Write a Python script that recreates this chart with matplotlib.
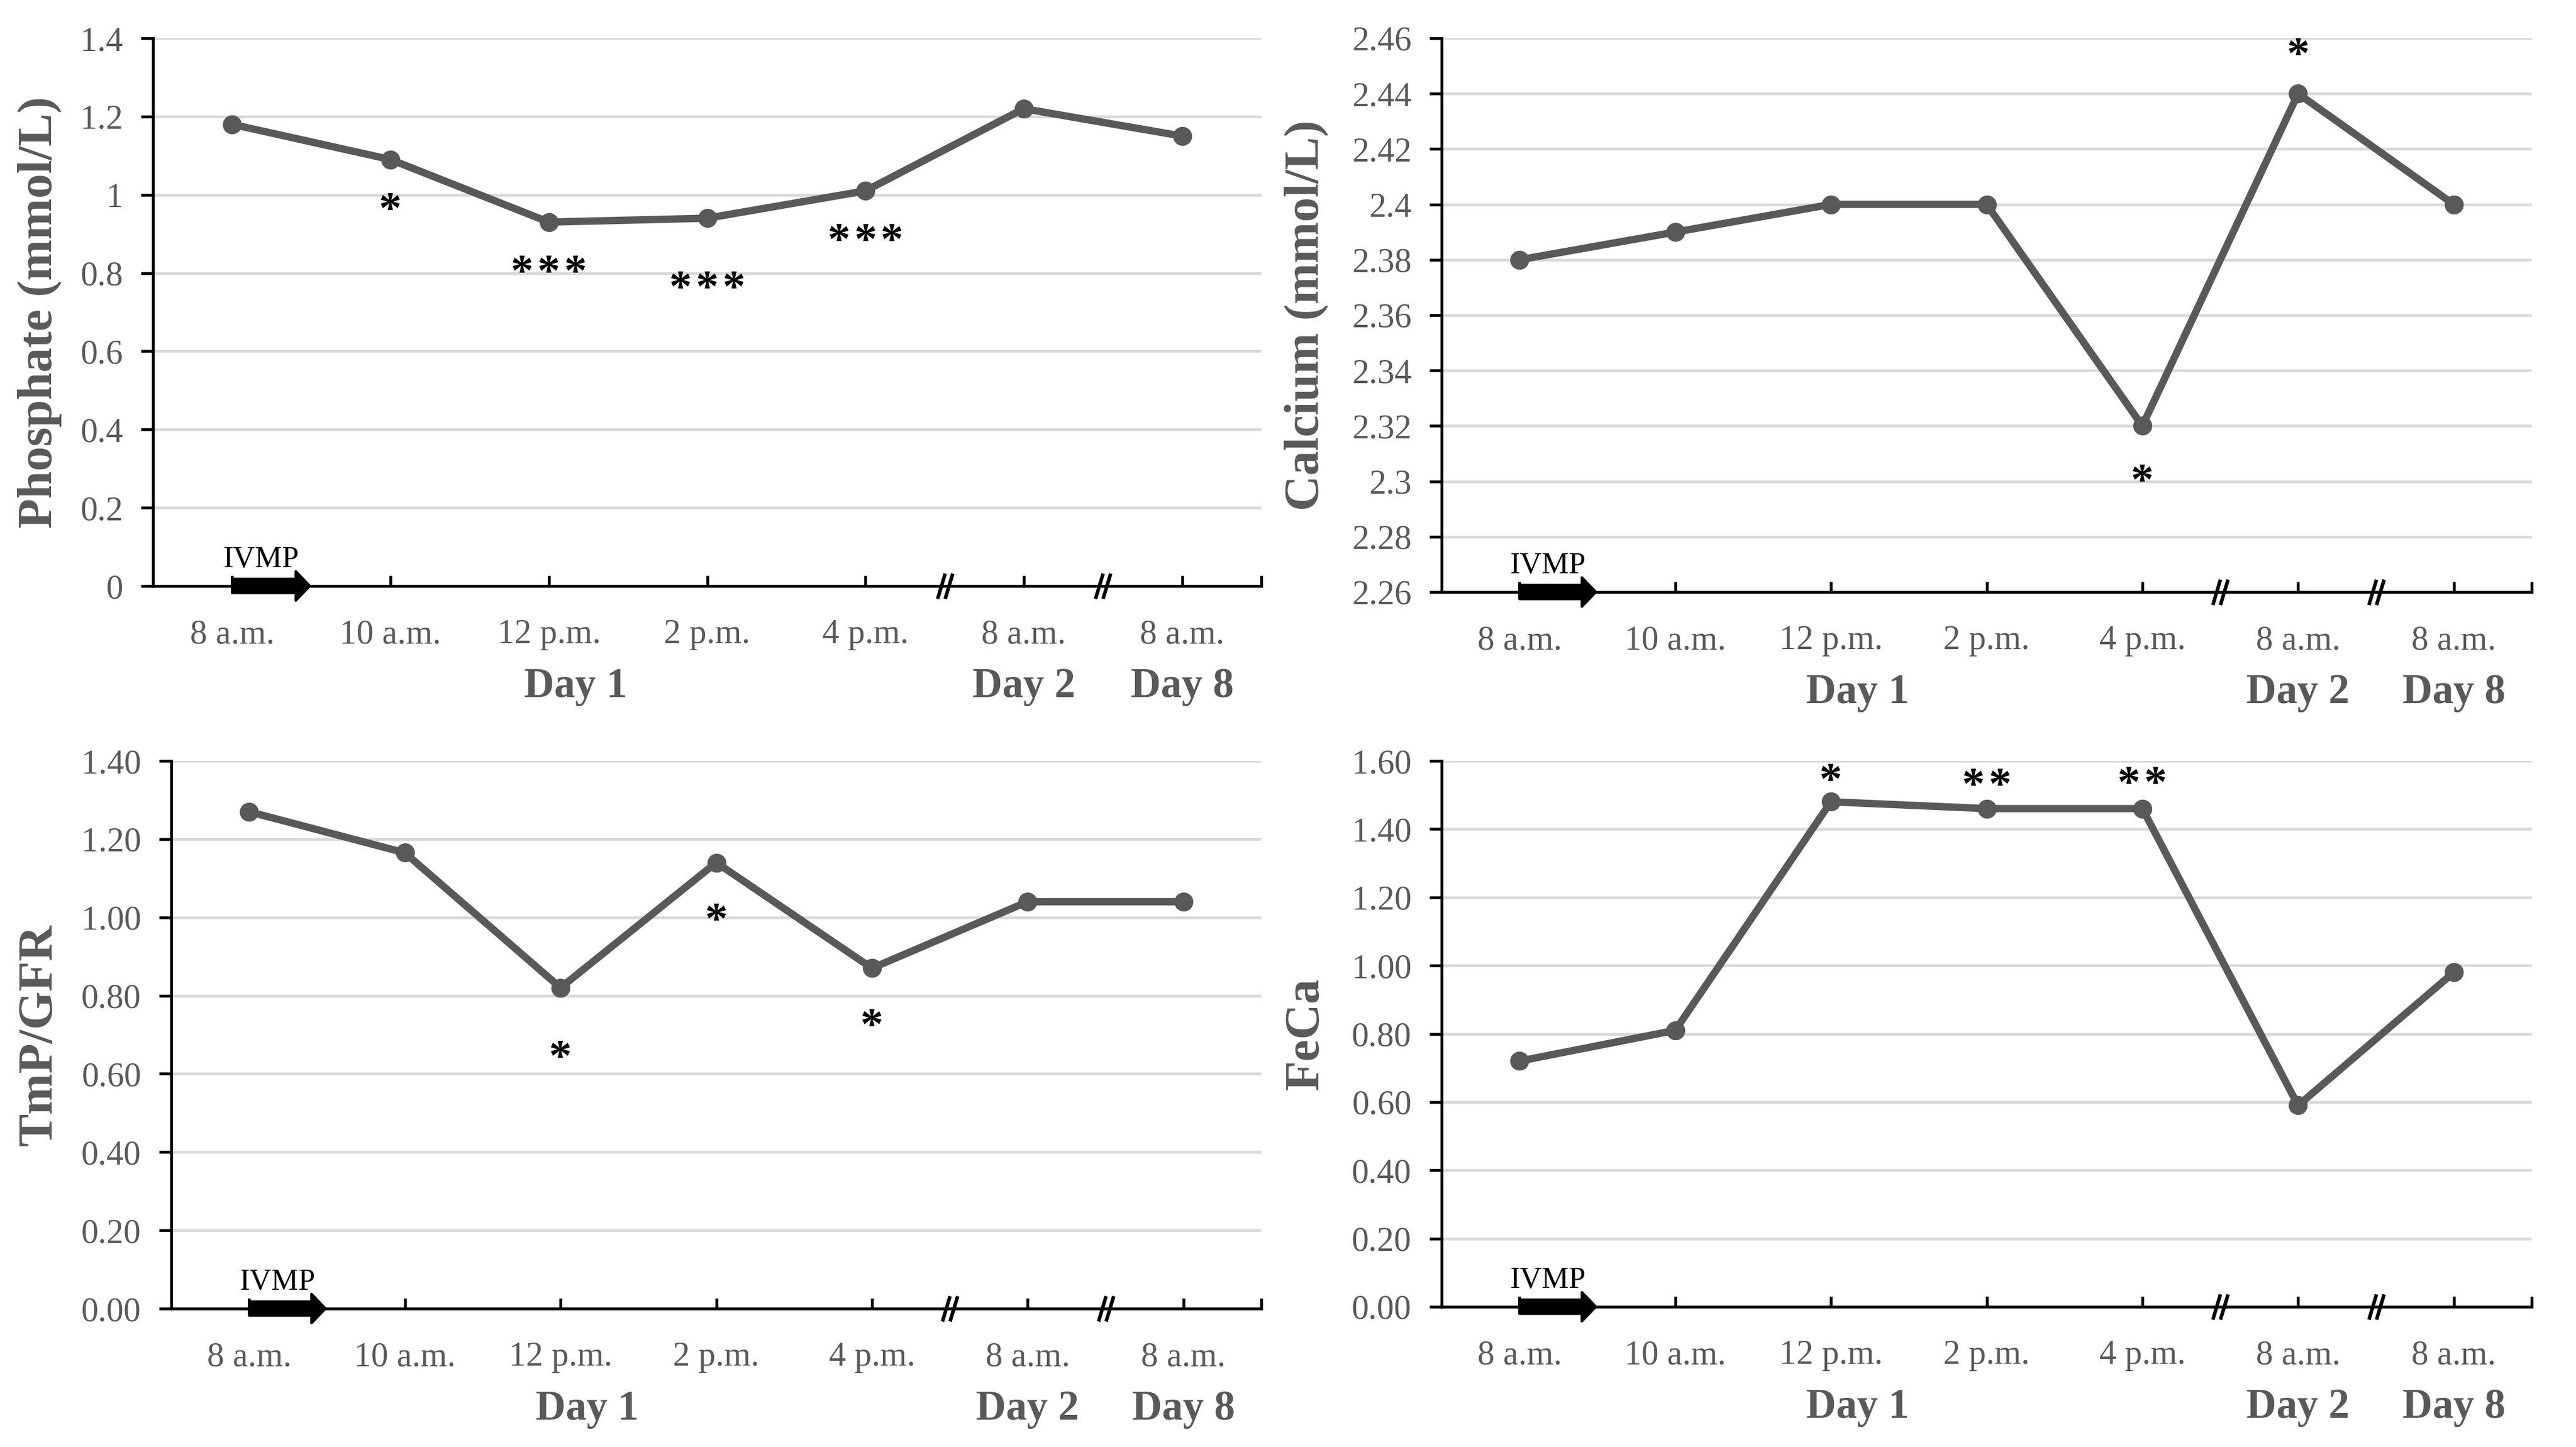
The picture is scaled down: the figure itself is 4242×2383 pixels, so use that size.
import matplotlib

matplotlib.use("Agg")

import matplotlib.pyplot as plt
from matplotlib.path import Path
from matplotlib.ticker import FixedLocator

plt.rcParams["font.family"] = ["Liberation Serif", "DejaVu Serif"]

W, H, DPI = 4242, 2383, 300
GRAY = "#595959"
LINE_GRAY = "#595959"
GRID_GRAY = "#d9d9d9"

# ---- data -----------------------------------------------------------------
TIME_LABELS = ["8 a.m.", "10 a.m.", "12 p.m.", "2 p.m.", "4 p.m.", "8 a.m.", "8 a.m."]
DAY_LABELS = ["Day 1", "Day 2", "Day 8"]
DAY_POS = [2.17, 5, 6]
BREAK_POS = [4.5, 5.5]

PHOSPHATE = [1.18, 1.09, 0.93, 0.94, 1.01, 1.22, 1.15]
CALCIUM = [2.38, 2.39, 2.40, 2.40, 2.32, 2.44, 2.40]
TMP_GFR = [1.27, 1.165, 0.82, 1.14, 0.87, 1.04, 1.04]
FECA = [0.72, 0.81, 1.48, 1.46, 1.46, 0.59, 0.98]

# significance marks: category index, centre of the star glyph, number of stars
PHOSPHATE_SIG = [(1, 0.99, 1), (2, 0.83, 3), (3, 0.79, 3), (4, 0.91, 3)]
CALCIUM_SIG = [(4, 2.304, 1), (5, 2.458, 1)]
TMP_GFR_SIG = [(2, 0.67, 1), (3, 1.02, 1), (4, 0.75, 1)]
FECA_SIG = [(2, 1.575, 1), (3, 1.56, 2), (4, 1.565, 2)]

PHOSPHATE_TICKS = [0, 0.2, 0.4, 0.6, 0.8, 1.0, 1.2, 1.4]
PHOSPHATE_TICKLABELS = ["0", "0.2", "0.4", "0.6", "0.8", "1", "1.2", "1.4"]
CALCIUM_TICKS = [2.26, 2.28, 2.30, 2.32, 2.34, 2.36, 2.38, 2.40, 2.42, 2.44, 2.46]
CALCIUM_TICKLABELS = ["2.26", "2.28", "2.3", "2.32", "2.34", "2.36", "2.38",
                      "2.4", "2.42", "2.44", "2.46"]
TMP_TICKS = [0, 0.2, 0.4, 0.6, 0.8, 1.0, 1.2, 1.4]
TMP_TICKLABELS = ["0.00", "0.20", "0.40", "0.60", "0.80", "1.00", "1.20", "1.40"]
FECA_TICKS = [0, 0.2, 0.4, 0.6, 0.8, 1.0, 1.2, 1.4, 1.6]
FECA_TICKLABELS = ["0.00", "0.20", "0.40", "0.60", "0.80", "1.00", "1.20", "1.40", "1.60"]

IVMP_X = 0.18
IVMP_ARROW = (0.0, 0.49)
STAR_GAP = 10.5  # points between neighbouring stars

# panel boxes in pixels: left, top, right, bottom ; y-label centre x
PANELS = [
    ("Phosphate (mmol/L)", PHOSPHATE, PHOSPHATE_SIG, PHOSPHATE_TICKS, PHOSPHATE_TICKLABELS,
     (252, 63, 2077, 965), 65),
    ("Calcium (mmol/L)", CALCIUM, CALCIUM_SIG, CALCIUM_TICKS, CALCIUM_TICKLABELS,
     (2374, 63, 4169, 975), 2151),
    ("TmP/GFR", TMP_GFR, TMP_GFR_SIG, TMP_TICKS, TMP_TICKLABELS,
     (282, 1253, 2077, 2155), 65),
    ("FeCa", FECA, FECA_SIG, FECA_TICKS, FECA_TICKLABELS,
     (2374, 1253, 4169, 2152), 2151),
]

BREAK_MARK = Path([(-0.6, -1.0), (0.0, 1.0), (0.0, -1.0), (0.6, 1.0)],
                  [Path.MOVETO, Path.LINETO, Path.MOVETO, Path.LINETO])


def draw_panel(fig, ylabel, values, sig, ticks, ticklabels, box, ylab_x):
    l, t, r, b = box
    ax = fig.add_axes([l / W, 1 - b / H, (r - l) / W, (b - t) / H])
    x = list(range(len(values)))
    ax.plot(x, values, color=LINE_GRAY, lw=2.9, marker="o", ms=6.5,
            solid_joinstyle="round", zorder=3)

    y0, y1 = ticks[0], ticks[-1]
    ax.set_xlim(-0.5, 6.5)
    ax.set_ylim(y0, y1)

    ax.set_yticks(ticks)
    ax.set_yticklabels(ticklabels)
    for v in ticks[1:]:
        ax.axhline(v, color=GRID_GRAY, lw=1.1, zorder=1)

    ax.set_xticks(x)
    ax.set_xticklabels(TIME_LABELS)
    ax.xaxis.set_minor_locator(FixedLocator([6.5]))

    for s in ("top", "right"):
        ax.spines[s].set_visible(False)
    for s in ("left", "bottom"):
        ax.spines[s].set_linewidth(1.1)
        ax.spines[s].set_color("black")
    ax.spines["left"].set_zorder(2)

    ax.tick_params(axis="y", direction="out", length=4.8, width=1.1,
                   labelsize=13.5, labelcolor=GRAY, pad=7)
    ax.tick_params(axis="x", which="both", direction="in", length=4, width=1.1,
                   labelsize=13.5, labelcolor=GRAY, pad=13)

    for xi, lab in zip(DAY_POS, DAY_LABELS):
        ax.annotate(lab, xy=(xi, 0), xycoords=("data", "axes fraction"),
                    xytext=(0, -44), textcoords="offset points",
                    ha="center", va="baseline", fontsize=16.5,
                    fontweight="bold", color=GRAY, annotation_clip=False)

    for xi, yv, n in sig:
        for k in range(n):
            dx = (k - (n - 1) / 2) * STAR_GAP
            ax.annotate("*", xy=(xi, yv), xytext=(dx, -9.5), textcoords="offset points",
                        ha="center", va="baseline", fontsize=18, fontweight="bold",
                        color="black", annotation_clip=False)

    # IVMP infusion arrow
    ax.annotate("", xy=(IVMP_ARROW[1], y0), xytext=(IVMP_ARROW[0], y0),
                arrowprops=dict(arrowstyle="simple,head_length=0.55,head_width=1.15,tail_width=0.55",
                                mutation_scale=10, color="black", shrinkA=0, shrinkB=0),
                annotation_clip=False, zorder=5)
    ax.annotate("IVMP", xy=(IVMP_X, y0), xytext=(0, 7.5), textcoords="offset points",
                ha="center", va="baseline", fontsize=12, color="black",
                annotation_clip=False)

    # axis breaks
    ax.plot(BREAK_POS, [y0] * len(BREAK_POS), linestyle="none", marker=BREAK_MARK,
            ms=10, mew=1.4, mec="black", clip_on=False, zorder=6)

    fig.text(ylab_x / W, 1 - (t + b) / 2 / H, ylabel, rotation=90, ha="center",
             va="center", fontsize=19.5, fontweight="bold", color=GRAY)
    return ax


def main():
    fig = plt.figure(figsize=(W / DPI, H / DPI), dpi=DPI)
    for p in PANELS:
        draw_panel(fig, *p)
    fig.savefig("out.png", dpi=DPI, facecolor="white")
    plt.close(fig)


if __name__ == "__main__":
    main()
